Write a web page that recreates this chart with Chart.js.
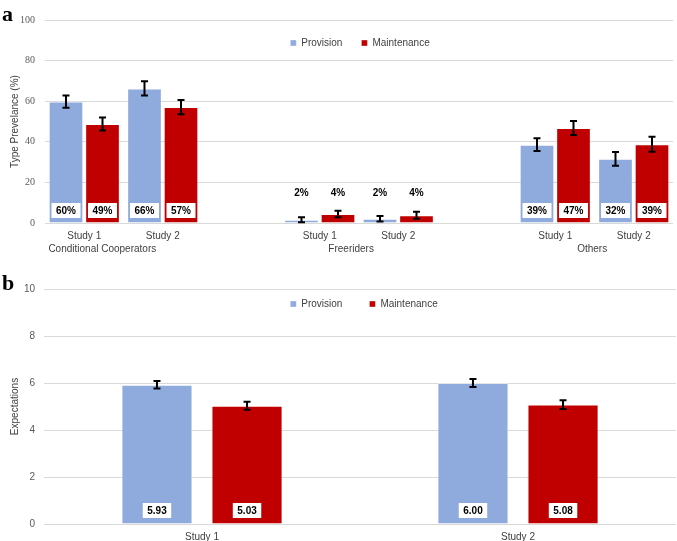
<!DOCTYPE html>
<html>
<head>
<meta charset="utf-8">
<script src="https://cdn.jsdelivr.net/npm/chart.js@4"></script>
<style>
  html, body { margin: 0; padding: 0; background: #fff; }
  body { width: 677px; height: 541px; position: relative; overflow: hidden; }
  canvas { position: absolute; left: 0; }
  #c1 { top: 0; }
  #c2 { top: 262px; }
  .panel { position: absolute; left: 2px; font-family: "Liberation Serif", "Times New Roman", serif; font-weight: bold; font-size: 22px; line-height: 1; color: #000; }
</style>
</head>
<body>
<canvas id="c1" width="677" height="262"></canvas>
<canvas id="c2" width="677" height="279"></canvas>
<div class="panel" style="top:3px;">a</div>
<div class="panel" style="top:272px;">b</div>
<script>
// ---------- Panel a data ----------
const categories = ['Study 1', 'Study 2', '', 'Study 1', 'Study 2', '', 'Study 1', 'Study 2'];
const groupNames = ['Conditional Cooperators', 'Freeriders', 'Others'];
const provision = [59.8, 66.3, null, 1.6, 2.1, null, 38.6, 31.6];
const maintenance = [48.8, 57.1, null, 4.4, 3.8, null, 46.8, 38.8];
const provisionErr = [3.0, 3.5, null, 1.2, 1.4, null, 3.1, 3.4];
const maintenanceErr = [3.2, 3.5, null, 1.6, 1.7, null, 3.4, 3.7];
const provisionLabels = ['60%', '66%', '', '2%', '2%', '', '39%', '32%'];
const maintenanceLabels = ['49%', '57%', '', '4%', '4%', '', '47%', '39%'];
const prevalenceTicks = [0, 20, 40, 60, 80, 100];

// ---------- Panel b data ----------
const studies = ['Study 1', 'Study 2'];
const expProvision = [5.93, 6.00];
const expMaintenance = [5.03, 5.08];
const expProvisionErr = [0.16, 0.17];
const expMaintenanceErr = [0.17, 0.19];
const expProvisionLabels = ['5.93', '6.00'];
const expMaintenanceLabels = ['5.03', '5.08'];
const expectationTicks = [0, 2, 4, 6, 8, 10];

const seriesNames = ['Provision', 'Maintenance'];
const BLUE = '#8faadc';
const RED = '#c00000';
const SANS = '"Liberation Sans", Arial, sans-serif';
const SERIF = '"Liberation Serif", "Times New Roman", serif';

// Error bars + value labels
const barExtras = {
  id: 'barExtras',
  afterDatasetsDraw(chart, args, opts) {
    const ctx = chart.ctx;
    const y = chart.scales.y;
    const base = y.getPixelForValue(0);
    chart.data.datasets.forEach((ds, di) => {
      const meta = chart.getDatasetMeta(di);
      meta.data.forEach((el, i) => {
        const v = ds.data[i];
        if (v === null || v === undefined) return;
        const e = ds.errors[i];
        const yt = y.getPixelForValue(v + e);
        const yb = y.getPixelForValue(v - e);
        ctx.save();
        ctx.strokeStyle = '#000';
        ctx.lineWidth = 2;
        ctx.beginPath();
        ctx.moveTo(el.x, yt); ctx.lineTo(el.x, yb);
        ctx.moveTo(el.x - opts.cap, yt); ctx.lineTo(el.x + opts.cap, yt);
        ctx.moveTo(el.x - opts.cap, yb); ctx.lineTo(el.x + opts.cap, yb);
        ctx.stroke();
        ctx.restore();
      });
    });
    chart.data.datasets.forEach((ds, di) => {
      const meta = chart.getDatasetMeta(di);
      meta.data.forEach((el, i) => {
        const txt = ds.valueLabels[i];
        if (!txt) return;
        ctx.save();
        ctx.font = 'bold 10px ' + SANS;
        ctx.textAlign = 'center';
        ctx.textBaseline = 'middle';
        const h = base - el.y;
        if (h > 25) {
          const cy = base - opts.labelOffset;
          const w = ctx.measureText(txt).width + 9;
          ctx.fillStyle = '#fff';
          ctx.fillRect(el.x - w / 2, cy - 7.5, w, 15);
          ctx.fillStyle = '#000';
          ctx.fillText(txt, el.x, cy + 0.5);
        } else {
          ctx.fillStyle = '#000';
          ctx.fillText(txt, el.x, base - 30);
        }
        ctx.restore();
      });
    });
  }
};

// Category group labels beneath the study labels (panel a)
const groupLabels = {
  id: 'groupLabels',
  afterDraw(chart, args, opts) {
    if (!opts.names) return;
    const ctx = chart.ctx;
    const x = chart.scales.x;
    const base = chart.scales.y.getPixelForValue(0);
    ctx.save();
    ctx.font = '10px ' + SANS;
    ctx.fillStyle = '#404040';
    ctx.textAlign = 'center';
    ctx.textBaseline = 'middle';
    opts.names.forEach((n, k) => {
      const p = opts.at[k];
      const i0 = Math.floor(p);
      const px = x.getPixelForValue(i0) + (p - i0) * (x.getPixelForValue(i0 + 1) - x.getPixelForValue(i0));
      ctx.fillText(n, px, base + 26);
    });
    ctx.restore();
  }
};

// Keep legend from taking layout space; draw it inside the plot area
const legendInside = {
  id: 'legendInside',
  beforeInit(chart, args, opts) {
    const lg = chart.legend;
    if (!lg) return;
    const origFit = lg.fit;
    lg.fit = function () { origFit.call(this); this._natH = this.height; this.height = 0; };
    lg.draw = function () {
      if (!this.options.display) return;
      const t = this.top, b = this.bottom, h = this.height, l = this.left, r = this.right;
      const sh = chart.options.plugins.legendInside.shiftX || 0;
      this.top = chart.chartArea.top + chart.options.plugins.legendInside.offset;
      this.height = this._natH || 20;
      this.bottom = this.top + this.height;
      this.left = l + sh; this.right = r + sh;
      this._draw();
      this.top = t; this.bottom = b; this.height = h; this.left = l; this.right = r;
    };
  }
};

Chart.register(barExtras, groupLabels, legendInside);

function makeChart(canvasId, cfg) {
  return new Chart(document.getElementById(canvasId), {
    type: 'bar',
    data: {
      labels: cfg.labels,
      datasets: [
        { label: seriesNames[0], data: cfg.p, errors: cfg.pe, valueLabels: cfg.pl,
          backgroundColor: BLUE, borderColor: 'rgba(255,255,255,0.35)', borderWidth: 1,
          categoryPercentage: cfg.catPct, barPercentage: cfg.barPct },
        { label: seriesNames[1], data: cfg.m, errors: cfg.me, valueLabels: cfg.ml,
          backgroundColor: RED, borderColor: 'rgba(255,255,255,0.35)', borderWidth: 1,
          categoryPercentage: cfg.catPct, barPercentage: cfg.barPct }
      ]
    },
    options: {
      responsive: false,
      devicePixelRatio: 1,
      animation: false,
      events: [],
      layout: { padding: cfg.padding },
      plugins: {
        tooltip: { enabled: false },
        legend: {
          position: 'top',
          fullSize: false,
          labels: { boxWidth: 6, boxHeight: 6, padding: cfg.legendPad, color: '#404040',
                    font: { family: SANS, size: 10 } }
        },
        legendInside: { offset: cfg.legendOffset, shiftX: cfg.legendShift },
        barExtras: { cap: 3.5, labelOffset: cfg.labelOffset },
        groupLabels: cfg.groups || {}
      },
      scales: {
        x: {
          grid: { display: false, drawTicks: false },
          border: { display: false },
          ticks: { color: '#404040', padding: 7, font: { family: SANS, size: 10 }, autoSkip: false, maxRotation: 0 },
          afterFit(s) { s.height = cfg.xHeight; }
        },
        y: {
          min: 0, max: cfg.ticks[cfg.ticks.length - 1],
          afterBuildTicks(s) { s.ticks = cfg.ticks.map(v => ({ value: v })); },
          grid: { color: '#d9d9d9', lineWidth: 1, drawTicks: false },
          border: { display: false },
          ticks: { color: '#595959', padding: cfg.tickPad, font: cfg.tickFont },
          title: { display: true, text: cfg.title, color: '#404040', padding: { top: 9, bottom: 0 },
                   font: { family: SANS, size: 10 } },
          afterFit(s) { s.width = cfg.yWidth; }
        }
      }
    }
  });
}

makeChart('c1', {
  labels: categories, p: provision, m: maintenance, pe: provisionErr, me: maintenanceErr,
  pl: provisionLabels, ml: maintenanceLabels, ticks: prevalenceTicks,
  title: 'Type Prevelance (%)', tickFont: { family: SERIF, size: 10 }, tickPad: 10,
  catPct: 0.93, barPct: 0.95, padding: { top: 20, left: 0, right: 4, bottom: 0 },
  xHeight: 39, yWidth: 45, legendPad: 19, legendOffset: -1, legendShift: 1, labelOffset: 12.5,
  groups: { names: groupNames, at: [0.23, 3.4, 6.47] }
});

makeChart('c2', {
  labels: studies, p: expProvision, m: expMaintenance, pe: expProvisionErr, me: expMaintenanceErr,
  pl: expProvisionLabels, ml: expMaintenanceLabels, ticks: expectationTicks,
  title: 'Expectations', tickFont: { family: SANS, size: 10 }, tickPad: 9,
  catPct: 0.57, barPct: 0.79, padding: { top: 27, left: 0, right: 1, bottom: 0 },
  xHeight: 17, yWidth: 44, legendPad: 27, legendOffset: -17, legendShift: 4, labelOffset: 13.5
});
</script>
</body>
</html>
